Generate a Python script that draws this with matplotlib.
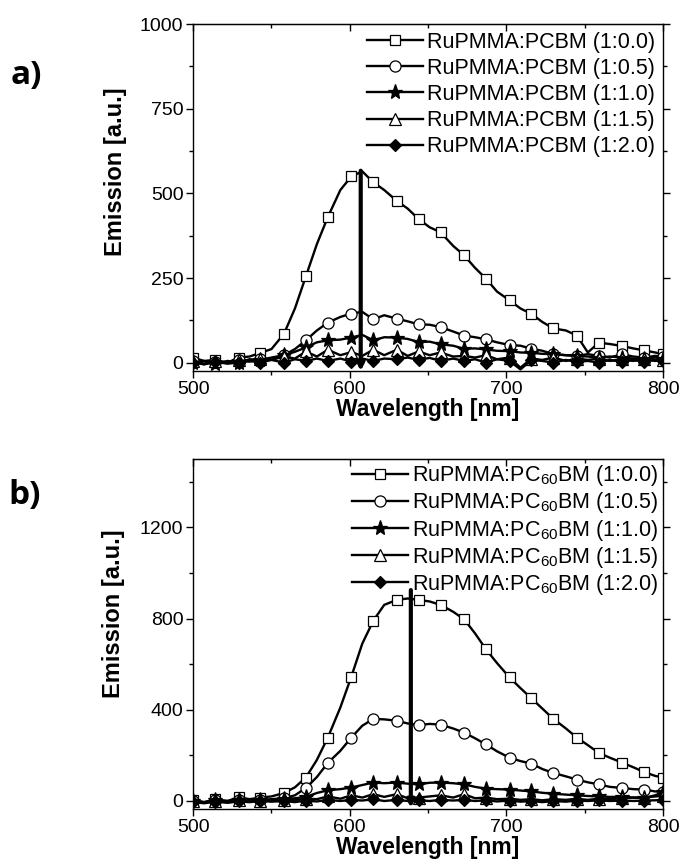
import numpy as np
import matplotlib
matplotlib.use('Agg')
import matplotlib.pyplot as plt
from matplotlib.ticker import MultipleLocator

plt.rcParams['font.family'] = ['Liberation Sans', 'DejaVu Sans']
plt.rcParams['mathtext.fontset'] = 'custom'
plt.rcParams['mathtext.rm'] = 'Liberation Sans'
plt.rcParams['mathtext.it'] = 'Liberation Sans'

# wavelength grid (nm)
wl = [500, 507, 514, 522, 529, 536, 543, 550, 558, 565, 572, 579, 586, 594, 601,
      608, 615, 622, 630, 637, 644, 651, 658, 666, 673, 680, 687, 694, 702, 709,
      716, 723, 730, 738, 745, 752, 759, 766, 774, 781, 788, 795, 800]

ratios = ['1:0.0', '1:0.5', '1:1.0', '1:1.5', '1:2.0']

# panel a) RuPMMA:PCBM
a_00 = [15, 5, 8, 0, 15, 18, 29, 40, 85, 160, 255, 350, 430, 510, 550,
        565, 533, 510, 478, 455, 424, 400, 385, 345, 317, 280, 248, 210, 184, 160,
        144, 120, 101, 95, 80, 30, 59, 55, 49, 42, 36, 30, 25]
a_05 = [5, -5, 3, 0, 8, 5, 12, 10, 22, 40, 66, 95, 118, 135, 145,
        150, 128, 140, 130, 122, 113, 112, 105, 92, 80, 75, 69, 60, 52, 50,
        41, 35, 25, 22, 20, 25, 20, 15, 25, 18, 15, 20, 18]
a_10 = [0, 5, -3, 5, 0, 10, 8, 15, 22, 32, 45, 60, 66, 68, 74,
        82, 66, 75, 74, 70, 61, 62, 54, 50, 41, 42, 39, 35, 34, 30,
        29, 26, 25, 22, 20, 18, 15, 18, 15, 12, 10, 15, 12]
a_15 = [5, -3, 5, -2, 8, 3, 12, 8, 18, 12, 33, 18, 38, 22, 31,
        20, 38, 22, 38, 20, 33, 22, 30, 18, 20, 15, 22, 10, 15, -15,
        12, 8, 15, 5, 12, 8, 12, 5, 10, 5, 10, 5, 8]
a_20 = [0, -5, 2, -3, 0, 5, 0, 8, 0, 10, 5, 12, 5, 12, 3,
        12, 5, 12, 10, 15, 8, 14, 5, 12, 5, 10, 0, 10, 5, -20,
        8, 5, 0, 8, 2, 5, 0, 8, 2, 8, 3, 8, 5]

# panel b) RuPMMA:PC60BM
b_00 = [5, -5, 7, 0, 17, 8, 15, 20, 35, 60, 103, 180, 278, 410, 545,
        690, 790, 860, 882, 888, 882, 875, 860, 830, 797, 735, 665, 605, 542, 495,
        450, 405, 360, 318, 278, 245, 211, 190, 168, 148, 127, 110, 103]
b_05 = [0, -8, 3, -2, 5, 0, 5, 8, 12, 25, 57, 105, 167, 220, 278,
        330, 360, 358, 352, 340, 333, 338, 335, 318, 300, 275, 248, 218, 190, 175,
        164, 140, 123, 108, 94, 82, 73, 62, 57, 52, 50, 42, 40]
b_10 = [0, -5, 3, 0, 5, 2, 5, 3, 8, 12, 18, 35, 47, 52, 59,
        70, 81, 78, 81, 76, 73, 80, 81, 78, 73, 62, 54, 52, 50, 46,
        42, 36, 32, 28, 25, 22, 20, 18, 18, 15, 13, 25, 38]
b_15 = [0, -8, 2, -3, 3, 0, 2, 0, 5, 3, 10, 8, 20, 10, 25,
        15, 30, 18, 30, 12, 15, 20, 25, 15, 30, 12, 15, 8, 10, 5,
        8, 3, 8, 5, 10, 5, 10, 8, 12, 15, 15, 20, 22]
b_20 = [-5, -10, -3, -8, -2, -5, 0, -3, 0, -5, 2, -2, 5, 0, 5,
        2, 8, 0, 5, 0, 3, 0, 5, 2, 5, 0, 3, -2, 2, -3,
        0, -5, 0, -3, 2, 0, 3, 0, 2, 0, 2, 3, 5]

# arrows (x, y_top, y_bottom)
arrow_a = (607, 567, -25)
arrow_b = (639, 925, -30)

markers = [('s', 'white', 6.5), ('o', 'white', 8), ('*', 'black', 11),
           ('^', 'white', 8), ('D', 'black', 6.5)]


def panel(ax, series, labels, ylim, ymajor, yminor, arrow, lspace, bpad):
    for y, lab, (m, fc, ms) in zip(series, labels, markers):
        ax.plot(wl, y, color='black', lw=1.7, marker=m, markerfacecolor=fc,
                markeredgecolor='black', markeredgewidth=0.9, ms=ms,
                markevery=(0, 2), label=lab)
    ax.annotate('', xy=(arrow[0], arrow[2]), xytext=(arrow[0], arrow[1]),
                arrowprops=dict(arrowstyle='-|>', lw=3, color='black',
                                mutation_scale=10, shrinkA=0, shrinkB=0))
    ax.set_xlim(500, 800)
    ax.set_ylim(*ylim)
    ax.xaxis.set_major_locator(MultipleLocator(100))
    ax.xaxis.set_minor_locator(MultipleLocator(50))
    ax.yaxis.set_major_locator(MultipleLocator(ymajor))
    ax.yaxis.set_minor_locator(MultipleLocator(yminor))
    ax.tick_params(which='both', direction='out', labelsize=14, pad=2,
                   right=True, width=1)
    ax.tick_params(which='major', length=5)
    ax.tick_params(which='minor', length=3)
    top = ax.secondary_xaxis('top')
    top.xaxis.set_major_locator(MultipleLocator(100))
    top.xaxis.set_minor_locator(MultipleLocator(50))
    top.tick_params(which='both', direction='in', labeltop=False, width=1)
    top.tick_params(which='major', length=5)
    top.tick_params(which='minor', length=3)
    for s in ax.spines.values():
        s.set_linewidth(1.0)
    ax.set_xlabel('Wavelength [nm]', fontsize=16.5, fontweight='bold', labelpad=0)
    ax.set_ylabel('Emission [a.u.]', fontsize=17, fontweight='bold')
    ax.legend(loc='upper right', frameon=False, fontsize=15.5, handlelength=2.6,
              handletextpad=0.2, labelspacing=lspace, borderaxespad=0.1,
              borderpad=bpad)


fig = plt.figure(figsize=(6.8, 8.63), dpi=100)
ax1 = fig.add_axes([0.284, 0.570, 0.691, 0.402])
ax2 = fig.add_axes([0.284, 0.0626, 0.691, 0.4056])

labels_a = ['RuPMMA:PCBM (%s)' % r for r in ratios]
labels_b = ['RuPMMA:PC$_{60}$BM (%s)' % r for r in ratios]

panel(ax1, [a_00, a_05, a_10, a_15, a_20], labels_a, (-25, 1000), 250, 125,
      arrow_a, 0.24, 0.25)
panel(ax2, [b_00, b_05, b_10, b_15, b_20], labels_b, (-35, 1500), 400, 200,
      arrow_b, 0.1, 0.1)

ax1.yaxis.set_label_coords(-0.14, 0.576)
ax2.yaxis.set_label_coords(-0.145, 0.557)

fig.text(0.016, 0.913, 'a)', fontsize=24, fontweight='bold', family='Open Sans',
         va='center')
fig.text(0.013, 0.426, 'b)', fontsize=24, fontweight='bold', family='Open Sans',
         va='center')

fig.savefig('out.png', dpi=100)
